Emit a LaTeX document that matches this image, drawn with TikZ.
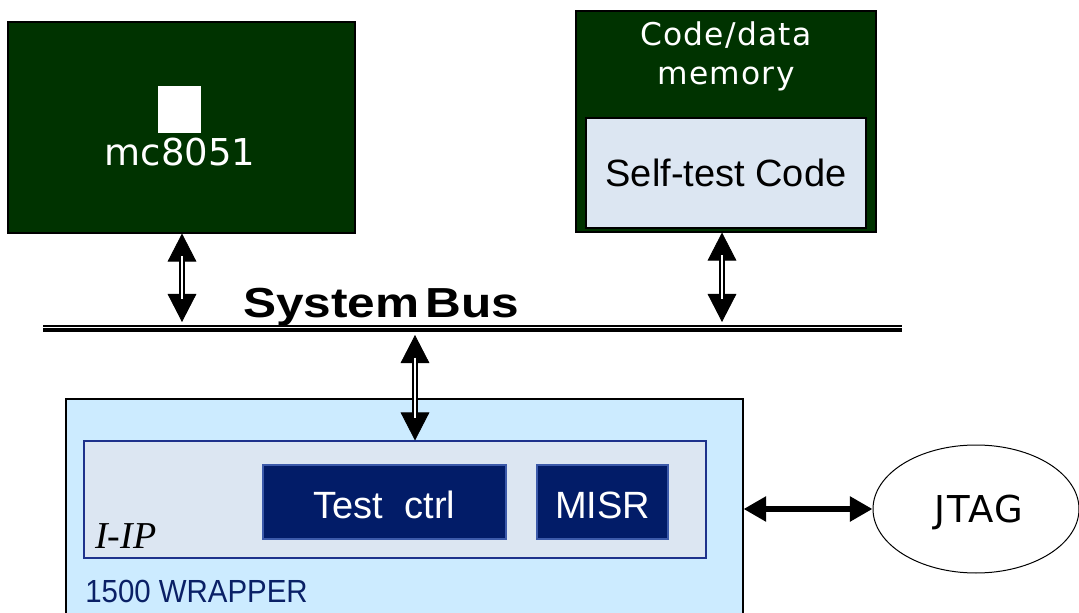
\documentclass[tikz,border=0pt]{standalone}
\usepackage{fontspec}
\setmainfont{Liberation Sans}
\newfontfamily\humanist{DejaVu Sans}
\newfontfamily\humanistwide[LetterSpace=4]{DejaVu Sans}
\newfontfamily\romanfont{Liberation Serif}
\usetikzlibrary{arrows.meta,shapes.geometric}

\definecolor{chipgreen}{RGB}{0,51,0}
\definecolor{codefill}{RGB}{220,230,242}
\definecolor{wrapfill}{RGB}{204,235,255}
\definecolor{ipfill}{RGB}{220,230,242}
\definecolor{ipborder}{RGB}{30,50,140}
\definecolor{ctrlfill}{RGB}{2,28,104}
\definecolor{ctrlborder}{RGB}{60,90,170}
\definecolor{wraptext}{RGB}{10,32,102}

\tikzset{
  blk/.style={rectangle, inner sep=0pt},
  txt/.style={inner sep=0pt, anchor=base},
  vtips/.style={line width=0.6pt,
    {Triangle[width=21.5pt,length=21pt]}-{Triangle[width=21.5pt,length=21pt]}},
  vshaft/.style={draw=black, line width=1.5pt, double=white,
    double distance=1.1pt, shorten <=17pt, shorten >=17pt},
  htips/.style={line width=4.4pt,
    {Triangle[width=18pt,length=17pt]}-{Triangle[width=18pt,length=17pt]}},
}

\begin{document}
\begin{tikzpicture}[x=0.75pt,y=-0.75pt]
\useasboundingbox (0,0) rectangle (1079,613);

% processor core
\node[blk, draw=black, line width=0.8pt, fill=chipgreen,
      minimum width=260.25pt, minimum height=158.25pt] (core) at (181.5,127.5) {};
\node[blk, fill=white, minimum width=32.25pt, minimum height=35.25pt] (logo) at (179.5,109.5) {};
\node[txt, text=white, font=\humanist\fontsize{27.75pt}{33pt}\selectfont] (corename) at (180,166) {mc8051};

% code / data memory
\node[blk, draw=black, line width=0.8pt, fill=chipgreen,
      minimum width=225pt, minimum height=165.75pt] (mem) at (726,121.5) {};
\node[txt, text=white, font=\humanistwide\fontsize{23.5pt}{29pt}\selectfont] (memname1) at (726,46) {Code/data};
\node[txt, text=white, font=\humanistwide\fontsize{23.5pt}{29pt}\selectfont] (memname2) at (726,85) {memory};
\node[blk, draw=black, line width=0.8pt, fill=codefill,
      minimum width=210pt, minimum height=82.5pt] (stc) at (726,173) {};
\node[txt, font=\fontsize{28.5pt}{33pt}\selectfont] (stcname) at (726,187) {Self-test Code};

% system bus
\coordinate (busL) at (43,326);
\coordinate (busR) at (902,326);
\draw[line width=1.2pt] (busL) -- (busR);
\draw[line width=2.7pt] ([yshift=-3.2pt]busL) -- ([yshift=-3.2pt]busR);
\node[txt, anchor=base west, font=\bfseries\fontsize{31.5pt}{36pt}\selectfont] (busname) at (243,317)
  {\scalebox{1.18}[1]{System\hspace{4pt}Bus}};

\coordinate (busTopA) at (182,322);
\coordinate (busTopB) at (722,322);
\coordinate (busBot) at (415,335);

% test wrapper
\node[blk, draw=black, line width=0.8pt, fill=wrapfill,
      minimum width=507.75pt, minimum height=180.75pt] (wrap) at (404.5,519.5) {};
\node[blk, draw=ipborder, line width=0.8pt, fill=ipfill,
      minimum width=466.5pt, minimum height=87.75pt] (iip) at (395,499.5) {};
\node[blk, draw=ctrlborder, line width=0.8pt, fill=ctrlfill,
      minimum width=182.25pt, minimum height=55.5pt] (ctrl) at (384.5,502) {};
\node[blk, draw=ctrlborder, line width=0.8pt, fill=ctrlfill,
      minimum width=98.25pt, minimum height=55.5pt] (misr) at (602.5,502) {};
\node[txt, text=white, font=\fontsize{28.5pt}{33pt}\selectfont] (ctrlname) at (384.5,518) {Test\ \ ctrl};
\node[txt, text=white, font=\fontsize{28.5pt}{33pt}\selectfont] (misrname) at (602.5,518) {MISR};
\node[txt, anchor=base west, font=\romanfont\itshape\fontsize{28.5pt}{33pt}\selectfont] (iipname) at (95,548) {I-IP};
\node[txt, anchor=base west, text=wraptext, font=\fontsize{24pt}{28pt}\selectfont] (wrapname) at (85,602)
  {\scalebox{0.92}[1]{1500 WRAPPER}};

% JTAG port
\node[ellipse, draw=black, line width=0.75pt, fill=white, inner sep=0pt,
      minimum width=154.5pt, minimum height=96pt] (jtag) at (976,509) {};
\node[txt, font=\humanistwide\fontsize{27.75pt}{33pt}\selectfont] (jtagname) at (979,522) {JTAG};

% bus connections
\draw[vtips] (core.south -| busTopA) -- (busTopA);
\draw[vshaft] (core.south -| busTopA) -- (busTopA);
\draw[vtips] (mem.south -| busTopB) -- (busTopB);
\draw[vshaft] (mem.south -| busTopB) -- (busTopB);
\draw[vtips] (busBot) -- (busBot |- iip.north);
\draw[vshaft] (busBot) -- (busBot |- iip.north);

% wrapper to JTAG
\draw[htips] (jtag.west -| wrap.east) -- (jtag.west);
\end{tikzpicture}
\end{document}
